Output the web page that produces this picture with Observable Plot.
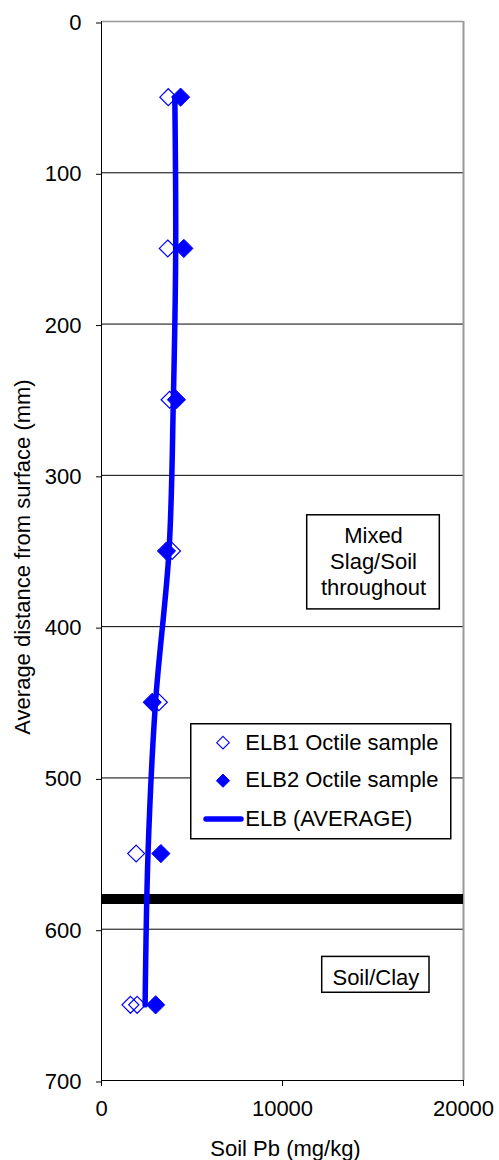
<!DOCTYPE html>
<html>
<head>
<meta charset="utf-8">
<script src="https://cdn.jsdelivr.net/npm/d3@7"></script>
<script src="https://cdn.jsdelivr.net/npm/@observablehq/plot@0.6"></script>
<style>
  html, body { margin: 0; padding: 0; background: white; overflow: hidden; }
  #wrap { position: relative; width: 499px; height: 1160px; font-family: "Liberation Sans", Arial, sans-serif; }
  #legend { position: absolute; left: 190px; top: 723px; }
</style>
</head>
<body>
<div id="wrap"><div id="chart"></div><div id="legend"></div></div>
<script>
// ---- data ----
const elb1Depth = [50, 150, 250, 350, 450, 550, 650, 650];
const elb1Pb    = [3690, 3660, 3760, 3900, 3170, 1915, 1600, 1970];
const elb2Depth = [50, 150, 250, 350, 450, 550, 650];
const elb2Pb    = [4370, 4550, 4140, 3590, 2800, 3280, 2990];
const avgDepth  = [50, 150, 250, 350, 450, 550, 650];
const avgPb     = [4050, 4100, 3970, 3730, 2985, 2570, 2410];
const boundaryDepth = [580];
const yTicks = [0, 100, 200, 300, 400, 500, 600, 700];
const yGrid  = [100, 200, 300, 400, 500, 600];
const xTicks = [0, 10000, 20000];
const seriesNames = ["ELB1 Octile sample", "ELB2 Octile sample", "ELB (AVERAGE)"];
const notes = ["Mixed\nSlag/Soil\nthroughout", "Soil/Clay"];

const elb1 = elb1Depth.map((d, i) => ({depth: d, pb: elb1Pb[i]}));
const elb2 = elb2Depth.map((d, i) => ({depth: d, pb: elb2Pb[i]}));
const avg  = avgDepth.map((d, i) => ({depth: d, pb: avgPb[i]}));

// annotation boxes placed in data space
const noteBoxes = [
  {text: notes[0], x1: 11365, x2: 18691, y1: 326.4, y2: 388.6, cx: 15028, cy: 356},
  {text: notes[1], x1: 12194, x2: 18122, y1: 618.3, y2: 642.0, cx: 15158, cy: 630.5}
];

const BLUE = "#0000ff";

const chart = Plot.plot({
  width: 499,
  height: 1160,
  marginLeft: 101,
  marginRight: 36,
  marginTop: 21,
  marginBottom: 80,
  style: {fontFamily: "'Liberation Sans', Arial, sans-serif", fontSize: "22px", background: "white", color: "black"},
  x: {domain: [0, 20000]},
  y: {domain: [0, 700], reverse: true},
  marks: [
    Plot.ruleY(yGrid, {stroke: "black", strokeWidth: 1}),
    Plot.ruleY([0], {stroke: "#999", strokeWidth: 1.5}),
    Plot.ruleX([20000], {stroke: "#999", strokeWidth: 2}),
    Plot.ruleY(boundaryDepth, {stroke: "black", strokeWidth: 10}),
    Plot.ruleX([0], {stroke: "black", strokeWidth: 1}),
    Plot.ruleY([700], {stroke: "black", strokeWidth: 1}),
    Plot.axisY({ticks: yTicks, tickFormat: d => String(d), tickSize: 5, tickPadding: 15, label: null, dy: 1.5}),
    Plot.axisX({ticks: xTicks, tickFormat: d3.format("d"), tickSize: 6, tickPadding: 14, label: null}),
    Plot.text(["Average distance from surface (mm)"], {frameAnchor: "left", rotate: -90, dx: -79, dy: 6, textAnchor: "middle", lineAnchor: "middle"}),
    Plot.text(["Soil Pb (mg/kg)"], {frameAnchor: "bottom", dx: 3, dy: 60, lineAnchor: "top", textAnchor: "middle"}),
    Plot.rect(noteBoxes, {x1: "x1", x2: "x2", y1: "y1", y2: "y2", fill: "white", stroke: "black", strokeWidth: 1.5}),
    Plot.text(noteBoxes, {x: "cx", y: "cy", text: "text", lineAnchor: "middle", lineHeight: 1.18, textAnchor: "middle", dy: 1}),
    Plot.line(avg, {x: "pb", y: "depth", stroke: BLUE, strokeWidth: 5.5, curve: "catmull-rom", strokeLinejoin: "round"}),
    Plot.dot(elb1, {x: "pb", y: "depth", symbol: "diamond2", r: 7.6, stroke: BLUE, fill: "none", strokeWidth: 1.2}),
    Plot.dot(elb2, {x: "pb", y: "depth", symbol: "diamond2", r: 8.2, fill: BLUE, stroke: BLUE, strokeWidth: 1})
  ]
});
document.getElementById("chart").appendChild(chart);

// legend
const lg = d3.select("#legend").append("svg")
  .attr("width", 262).attr("height", 117)
  .style("display", "block")
  .style("font-family", "'Liberation Sans', Arial, sans-serif")
  .style("font-size", "22px");
lg.append("rect").attr("x", 0.75).attr("y", 0.75).attr("width", 260).attr("height", 115)
  .attr("fill", "white").attr("stroke", "black").attr("stroke-width", 1.5);
const dia = s => `M0,${-s}L${s},0L0,${s}L${-s},0Z`;
lg.append("path").attr("d", dia(6.3)).attr("transform", "translate(33,19.7)")
  .attr("fill", "none").attr("stroke", BLUE).attr("stroke-width", 1.1);
lg.append("path").attr("d", dia(6.6)).attr("transform", "translate(33,57.7)")
  .attr("fill", BLUE).attr("stroke", BLUE).attr("stroke-width", 1);
lg.append("line").attr("x1", 16).attr("x2", 51).attr("y1", 96).attr("y2", 96)
  .attr("stroke", BLUE).attr("stroke-width", 5.5).attr("stroke-linecap", "round");
const baselines = [27, 64.3, 102.7];
seriesNames.forEach((n, i) => {
  lg.append("text").attr("x", 55.3).attr("y", baselines[i]).attr("fill", "black").text(n);
});
</script>
</body>
</html>
